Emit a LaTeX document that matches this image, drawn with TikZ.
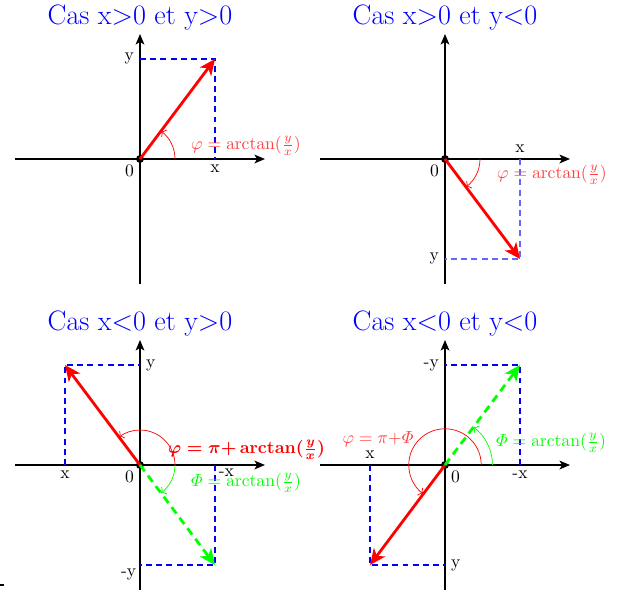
\documentclass[tikz,border=0pt]{standalone}
\usepackage{amsmath}
\usetikzlibrary{arrows.meta}
\definecolor{pureblue}{RGB}{0,0,255}
\definecolor{lightblue}{RGB}{102,102,255}
\begin{document}
\begin{tikzpicture}[x=0.5cm,y=0.5cm,
  axis/.style={thick,-{Stealth[length=6pt,width=5pt,inset=1.5pt]}},
  vecred/.style={draw=red,ultra thick,-{Stealth[length=9pt,width=8pt,inset=2.5pt]}},
  vecgreen/.style={draw=green,ultra thick,dash pattern=on 4.5pt off 3pt,-{Stealth[length=9pt,width=8pt,inset=2.5pt]}},
  proj/.style={draw=pureblue,line width=0.6pt,dash pattern=on 3.4pt off 2.4pt},
  projlight/.style={draw=lightblue,line width=0.6pt,dash pattern=on 3.4pt off 2.4pt},
  angred/.style={draw=red,->},
  anggreen/.style={draw=green,->},
  titlelbl/.style={text=blue,font=\fontsize{16}{19}\selectfont,anchor=base},
  dot/.style={circle,fill=black,inner sep=0pt,minimum size=4.5pt},
  redlbl/.style={text=red!75},
  boldlbl/.style={text=red,font=\boldmath},
  greenlbl/.style={text=green}]
\useasboundingbox (-5.6,-17.4) rectangle (19.24,6.36);
\draw[thick] (-5.6,-17.04) -- (-5.45,-17.04);

% ---------- Panel 1 ----------
\begin{scope}
\node[titlelbl] (t1) at (0,5.4) {Cas x>0 et y>0};
\coordinate (xl1) at (-5,0); \coordinate (xr1) at (5,0);
\coordinate (yb1) at (0,-5); \coordinate (yt1) at (0,5);
\draw[axis] (xl1) -- (xr1);
\draw[axis] (yb1) -- (yt1);
\coordinate (P1) at (3,4); \coordinate (Px1) at (3,0); \coordinate (Py1) at (0,4);
\draw[proj] (Py1) -- (P1) -- (Px1);
\node[dot] (O1) at (0,0) {};
\draw[vecred] (O1.center) -- (P1);
\draw[angred] (1.4,0) arc (0:53.13:1.4);
\node[below left] (z1) at (O1.center) {0};
\node[left] (ly1) at (Py1) {y};
\node[below] (lx1) at (Px1) {x};
\node[redlbl] (phi1) at (4.24,0.52) {$\varphi=\arctan(\frac{y}{x})$};
\end{scope}

% ---------- Panel 2 ----------
\begin{scope}[shift={(12.2,0)}]
\node[titlelbl] (t2) at (0,5.4) {Cas x>0 et y<0};
\coordinate (xl2) at (-5,0); \coordinate (xr2) at (5,0);
\coordinate (yb2) at (0,-5); \coordinate (yt2) at (0,5);
\draw[axis] (xl2) -- (xr2);
\draw[axis] (yb2) -- (yt2);
\coordinate (P2) at (3,-4); \coordinate (Px2) at (3,0); \coordinate (Py2) at (0,-4);
\draw[projlight] (Px2) -- (P2) -- (Py2);
\node[dot] (O2) at (0,0) {};
\draw[vecred] (O2.center) -- (P2);
\draw[angred] (1.4,0) arc (0:-53.13:1.4);
\node[below left] (z2) at (O2.center) {0};
\node[left] (ly2) at (Py2) {y};
\node[above] (lx2) at (Px2) {x};
\node[redlbl] (phi2) at (4.28,-0.64) {$\varphi=\arctan(\frac{y}{x})$};
\end{scope}

% ---------- Panel 3 ----------
\begin{scope}[shift={(0,-12.24)}]
\node[titlelbl] (t3) at (0,5.4) {Cas x<0 et y>0};
\coordinate (xl3) at (-5,0); \coordinate (xr3) at (5,0);
\coordinate (yb3) at (0,-5); \coordinate (yt3) at (0,5);
\draw[axis] (xl3) -- (xr3);
\draw[axis] (yb3) -- (yt3);
\coordinate (P3) at (-3,4); \coordinate (Px3) at (-3,0); \coordinate (Py3) at (0,4);
\coordinate (Q3) at (3,-4); \coordinate (Qx3) at (3,0); \coordinate (Qy3) at (0,-4);
\draw[proj] (Px3) -- (P3) -- (Py3);
\draw[proj] (Qx3) -- (Q3) -- (Qy3);
\node[dot] (O3) at (0,0) {};
\draw[vecred] (O3.center) -- (P3);
\draw[vecgreen] (O3.center) -- (Q3);
\draw[angred] (1.4,0) arc (0:126.87:1.4);
\draw[anggreen] (1.4,0) arc (0:-53.13:1.4);
\node[below left] (z3) at (O3.center) {0};
\node[right] (ly3) at (Py3) {y};
\node[below] (lx3) at (Px3) {x};
\node[below right,inner sep=2pt] (lmx3) at (Qx3) {-x};
\node[below left,inner sep=2pt] (lmy3) at (Qy3) {-y};
\node[boldlbl] (phi3) at (4.26,0.6) {$\varphi=\pi{+}\arctan(\frac{y}{x})$};
\node[greenlbl] (Phi3) at (4.24,-0.72) {$\varPhi=\arctan(\frac{y}{x})$};
\end{scope}

% ---------- Panel 4 ----------
\begin{scope}[shift={(12.2,-12.24)}]
\node[titlelbl] (t4) at (0,5.4) {Cas x<0 et y<0};
\coordinate (xl4) at (-5,0); \coordinate (xr4) at (5,0);
\coordinate (yb4) at (0,-5); \coordinate (yt4) at (0,5);
\draw[axis] (xl4) -- (xr4);
\draw[axis] (yb4) -- (yt4);
\coordinate (P4) at (-3,-4); \coordinate (Px4) at (-3,0); \coordinate (Py4) at (0,-4);
\coordinate (Q4) at (3,4); \coordinate (Qx4) at (3,0); \coordinate (Qy4) at (0,4);
\draw[proj] (Px4) -- (P4) -- (Py4);
\draw[proj] (Qx4) -- (Q4) -- (Qy4);
\node[dot] (O4) at (0,0) {};
\draw[vecred] (O4.center) -- (P4);
\draw[vecgreen] (O4.center) -- (Q4);
\draw[angred] (1.45,0) arc (0:233.13:1.45);
\draw[anggreen] (1.9,0) arc (0:53.13:1.9);
\node[below right] (z4) at (O4.center) {0};
\node[right] (ly4) at (Py4) {y};
\node[above] (lx4) at (Px4) {x};
\node[below] (lmx4) at (Qx4) {-x};
\node[left] (lmy4) at (Qy4) {-y};
\node[redlbl] (phi4) at (-2.68,1.05) {$\varphi=\pi{+}\varPhi$};
\node[greenlbl] (Phi4) at (4.24,0.88) {$\varPhi=\arctan(\frac{y}{x})$};
\end{scope}
\end{tikzpicture}
\end{document}
